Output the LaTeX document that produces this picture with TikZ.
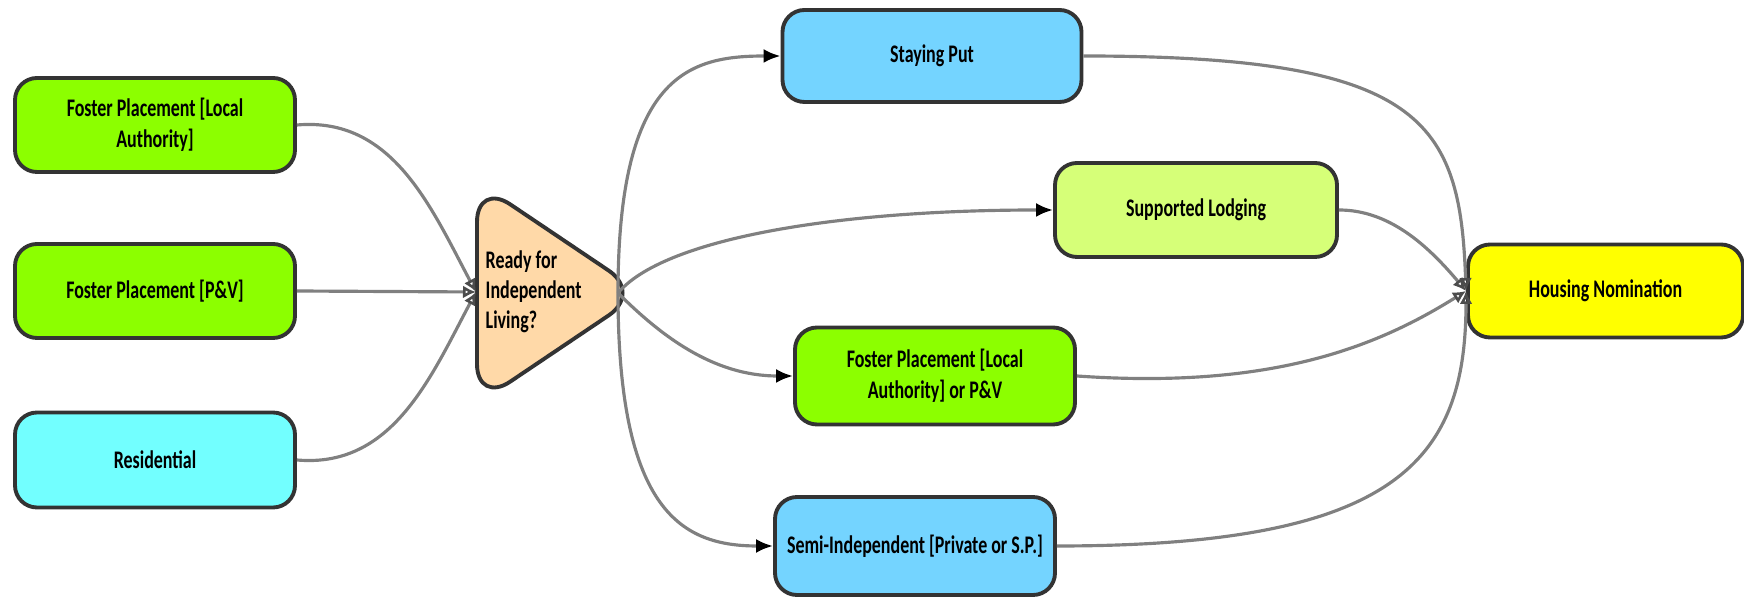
\documentclass[tikz,border=0pt]{standalone}
\usepackage{fontspec}
\newfontfamily\flowfont[FakeStretch=0.71]{Carlito}
\usetikzlibrary{arrows.meta}
\definecolor{fostergreen}{HTML}{8CFF00}
\definecolor{rescyan}{HTML}{72FFFF}
\definecolor{stayblue}{HTML}{74D4FF}
\definecolor{lodgegreen}{HTML}{D6FF78}
\definecolor{readypeach}{HTML}{FFD9A8}
\definecolor{nomyellow}{HTML}{FFFF00}
\tikzset{>={Latex[length=1.7mm,width=1.4mm,color=black]},
  outline/.style={draw=black!80, line width=1.1pt},
  box/.style={outline, rounded corners=2.2mm, align=center, inner sep=0pt,
    minimum width=2.8cm, minimum height=0.94cm,
    font=\flowfont\bfseries\fontsize{7.2}{8.8}\selectfont},
  link/.style={draw=black!50, line width=0.9pt},
  merge/.style={-{Latex[open,length=1.3mm,width=1.3mm,color=black!70]}}}

\begin{document}
\begin{tikzpicture}
\useasboundingbox (0,0) rectangle (17.44,5.98);
% left column
\node[box, fill=fostergreen] (fla) at (1.55,4.73) {Foster Placement [Local\\Authority]};
\node[box, fill=fostergreen] (fpv) at (1.55,3.07) {Foster Placement [P\&V]};
\node[box, fill=rescyan, minimum height=0.95cm] (res) at (1.55,1.38) {Residential};
% decision
\draw[outline, fill=readypeach, rounded corners=4mm]
  (4.77,4.16) -- (6.42,3.05) -- (4.77,1.94) -- cycle;
\node[anchor=west, align=left, inner sep=0pt,
  font=\flowfont\bfseries\fontsize{7.2}{8.6}\selectfont] (ready) at (4.85,3.06)
  {Ready for\\Independent\\Living?};
\coordinate (readyin) at (4.76,3.06);
\coordinate (readyout) at (6.18,3.05);
% middle column
\node[box, fill=stayblue, minimum width=2.99cm, minimum height=0.92cm] (stay) at (9.32,5.42) {Staying Put};
\node[box, fill=lodgegreen, minimum width=2.82cm] (lodge) at (11.96,3.88) {Supported Lodging};
\node[box, fill=fostergreen, minimum height=0.97cm] (fosterlv) at (9.35,2.22) {Foster Placement [Local\\Authority] or P\&V};
\node[box, fill=stayblue, minimum height=0.98cm] (semi) at (9.15,0.52) {Semi-Independent [Private or S.P.]};
% right
\node[box, fill=nomyellow, minimum width=2.75cm, minimum height=0.93cm] (nom) at (16.055,3.07) {Housing Nomination};
\coordinate (nomin) at (14.66,3.07);
% into the decision
\draw[link, merge] (fla.east) to[out=5,in=118] (readyin);
\draw[link, merge] (fpv.east) -- (readyin);
\draw[link, merge] (res.east) to[out=-5,in=242] (readyin);
% out of the decision
\draw[link, ->] (readyout) to[out=90,in=180,out distance=2.2cm,in distance=0.9cm] (stay.west);
\draw[link, ->] (readyout) to[out=50,in=180,out distance=0.7cm,in distance=2.2cm] (lodge.west);
\draw[link, ->] (readyout) to[out=-45,in=180,out distance=0.6cm,in distance=0.8cm] (fosterlv.west);
\draw[link, ->] (readyout) to[out=-90,in=180,out distance=2.2cm,in distance=0.9cm] (semi.west);
% into the nomination
\draw[link, merge] (stay.east) to[out=0,in=92,out distance=3.4cm,in distance=1.7cm] (nomin);
\draw[link, merge] (lodge.east) to[out=0,in=130,out distance=0.5cm,in distance=0.6cm] (nomin);
\draw[link, merge] (fosterlv.east) to[out=-4,in=212,out distance=2cm,in distance=1cm] (nomin);
\draw[link, merge] (semi.east) to[out=0,in=-90,out distance=3.4cm,in distance=1.7cm] (nomin);
\end{tikzpicture}
\end{document}
